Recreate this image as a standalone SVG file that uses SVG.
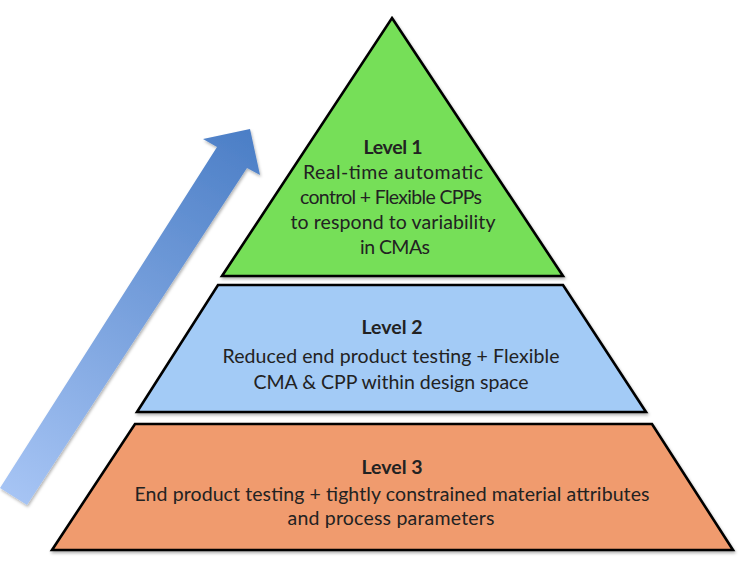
<svg xmlns="http://www.w3.org/2000/svg" width="742" height="570" viewBox="0 0 742 570">
<style>
.shape{stroke:#000;stroke-width:2.6;stroke-linejoin:miter;filter:url(#sh)}
.t{font-family:Lato,"Open Sans","Liberation Sans",sans-serif;font-size:19.5px;fill:#222;text-anchor:middle}
.b{font-weight:bold}
</style>
<defs>
<linearGradient id="ag" x1="13" y1="496" x2="250" y2="129" gradientUnits="userSpaceOnUse">
<stop offset="0" stop-color="#a6c4f4"/>
<stop offset="1" stop-color="#4b7ec6"/>
</linearGradient>
<filter id="sh" x="-10%" y="-10%" width="120%" height="120%">
<feDropShadow dx="1" dy="2" stdDeviation="1.5" flood-color="#000" flood-opacity="0.3"/>
</filter>
</defs>
<rect width="742" height="570" fill="#fff"/>
<g id="arrow">
<path d="M0,488 L217,147 L203,139 L250,129 L260,175 L247,168 L27,505 Z" fill="url(#ag)" filter="url(#sh)"/>
</g>
<g id="level1">
<polygon class="shape" points="392,18 563,276 222,276" fill="#76df58"/>
<text class="t b" x="393" y="154" textLength="59">Level 1</text>
<text class="t" x="393" y="179" textLength="180">Real-time automatic</text>
<text class="t" x="391" y="204" textLength="182">control + Flexible CPPs</text>
<text class="t" x="393" y="229" textLength="205">to respond to variability</text>
<text class="t" x="395" y="254" textLength="70">in CMAs</text>
</g>
<g id="level2">
<polygon class="shape" points="218,285 563,285 646,412 137,412" fill="#a3cbf6"/>
<text class="t b" x="392" y="334">Level 2</text>
<text class="t" x="391" y="363" textLength="337">Reduced end product testing + Flexible</text>
<text class="t" x="391" y="389" textLength="275">CMA &amp; CPP within design space</text>
</g>
<g id="level3">
<polygon class="shape" points="135,424 652,424 733,550 52,550" fill="#f09b6e"/>
<text class="t b" x="392" y="474">Level 3</text>
<text class="t" x="392" y="501" textLength="515">End product testing + tightly constrained material attributes</text>
<text class="t" x="391" y="525" textLength="207">and process parameters</text>
</g>
</svg>
